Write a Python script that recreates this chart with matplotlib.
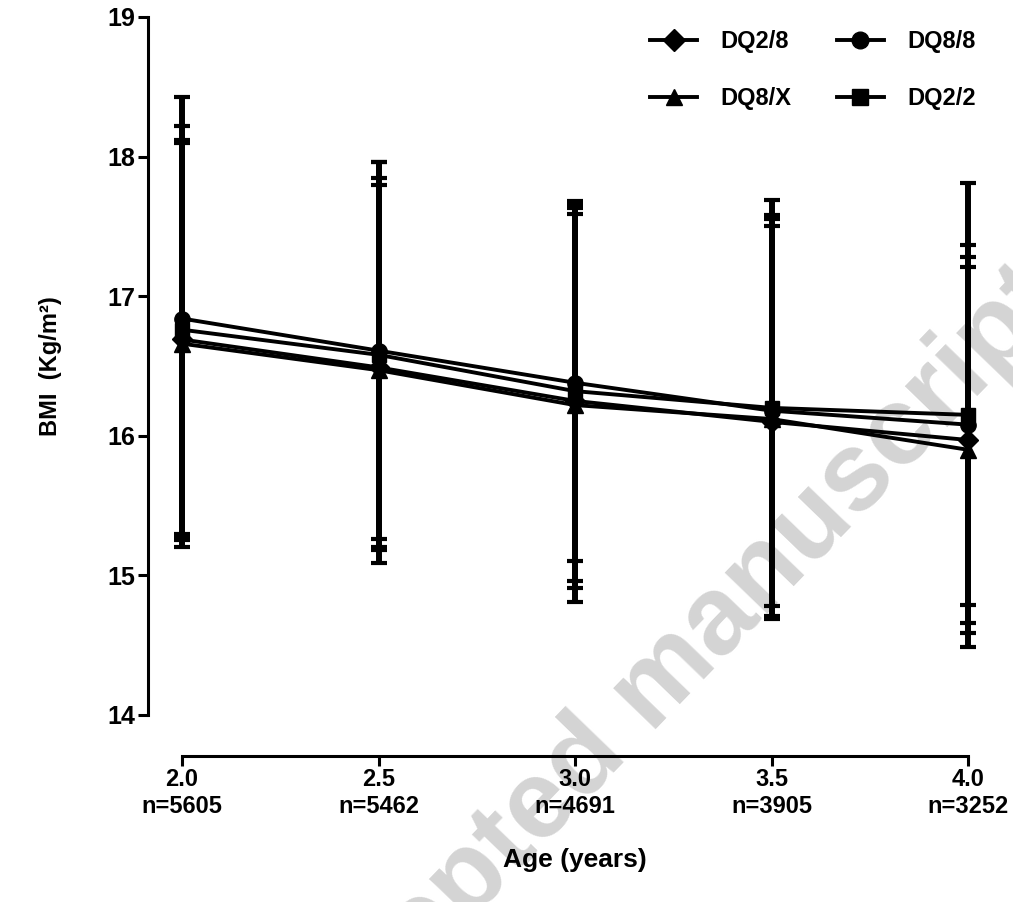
import matplotlib
matplotlib.use('Agg')
import matplotlib.pyplot as plt
from matplotlib.lines import Line2D

plt.rcParams['font.family'] = ['Liberation Sans', 'DejaVu Sans']
plt.rcParams['font.weight'] = 'bold'

# ---- data ----
ages = [2.0, 2.5, 3.0, 3.5, 4.0]
n_labels = ['n=5605', 'n=5462', 'n=4691', 'n=3905', 'n=3252']
x_tick_labels = ['2.0', '2.5', '3.0', '3.5', '4.0']
y_ticks = [14, 15, 16, 17, 18, 19]

dq28_mean = [16.69, 16.49, 16.25, 16.10, 15.97]
dq28_sd = [1.41, 1.31, 1.34, 1.40, 1.31]
dq88_mean = [16.84, 16.61, 16.38, 16.18, 16.08]
dq88_sd = [1.59, 1.35, 1.28, 1.40, 1.29]
dq8x_mean = [16.66, 16.47, 16.22, 16.12, 15.90]
dq8x_sd = [1.46, 1.38, 1.41, 1.43, 1.31]
dq22_mean = [16.76, 16.58, 16.32, 16.20, 16.15]
dq22_sd = [1.46, 1.38, 1.36, 1.49, 1.66]

series = [
    ('DQ2/8', dq28_mean, dq28_sd, 'D', 10),
    ('DQ8/X', dq8x_mean, dq8x_sd, '^', 11),
    ('DQ8/8', dq88_mean, dq88_sd, 'o', 11),
    ('DQ2/2', dq22_mean, dq22_sd, 's', 10),
]

W, H = 1013, 902
fig = plt.figure(figsize=(W / 100, H / 100), dpi=100)
ax = fig.add_axes([182 / W, 1 - 715 / H, 786 / W, 698 / H])
ax.patch.set_alpha(0)

# watermark
fig.text(654 / W, 1 - 690 / H, 'Accepted manuscript', rotation=46, fontsize=80,
         color='#d4d4d4', weight='bold', ha='center', va='center',
         rotation_mode='anchor', zorder=-1)

handles = {}
for name, mean, sd, mk, ms in series:
    eb = ax.errorbar(ages, mean, yerr=sd, color='black', lw=2.8, marker=mk, ms=ms,
                     elinewidth=4.3, capsize=6, capthick=3, clip_on=False)
    for art in eb.lines[1] + eb.lines[2] + (eb.lines[0],):
        art.set_clip_on(False)
    handles[name] = Line2D([], [], color='black', lw=2.8, marker=mk, ms=ms + 1)

ax.set_xlim(2.0, 4.0)
ax.set_ylim(14, 19)
ax.set_xticks(ages)
ax.set_xticklabels([f'{a}\n{n}' for a, n in zip(x_tick_labels, n_labels)],
                   linespacing=1.45)
ax.set_yticks(y_ticks)

for s in ['top', 'right']:
    ax.spines[s].set_visible(False)
ax.spines['left'].set_position(('outward', 24.5))
ax.spines['bottom'].set_position(('outward', 29.5))
ax.spines['left'].set_linewidth(2.2)
ax.spines['bottom'].set_linewidth(2.2)
ax.spines['left'].set_bounds(14, 19)
ax.spines['bottom'].set_bounds(2.0, 4.0)

ax.tick_params(axis='both', direction='out', length=7, width=2.2, colors='black')
ax.tick_params(axis='y', pad=2, labelsize=18)
ax.tick_params(axis='x', pad=2, labelsize=17)
for lab in ax.get_xticklabels() + ax.get_yticklabels():
    lab.set_fontweight('bold')

ax.set_ylabel('BMI  (Kg/m²)', fontsize=17, fontweight='bold')
ax.yaxis.set_label_coords(-0.153, 0.5)
ax.set_xlabel('Age (years)', fontsize=19, fontweight='bold')
ax.xaxis.set_label_coords(0.5, -0.19)

order = ['DQ2/8', 'DQ8/X', 'DQ8/8', 'DQ2/2']
leg = fig.legend([handles[k] for k in order], order, ncol=2, frameon=False,
                 loc='upper left', bbox_to_anchor=(650 / W, 1 - 30 / H),
                 borderaxespad=0, borderpad=0, handlelength=2.0,
                 handletextpad=1.0, columnspacing=1.9, labelspacing=1.45,
                 prop={'weight': 'bold', 'size': 17})

fig.savefig('out.png', dpi=100)
